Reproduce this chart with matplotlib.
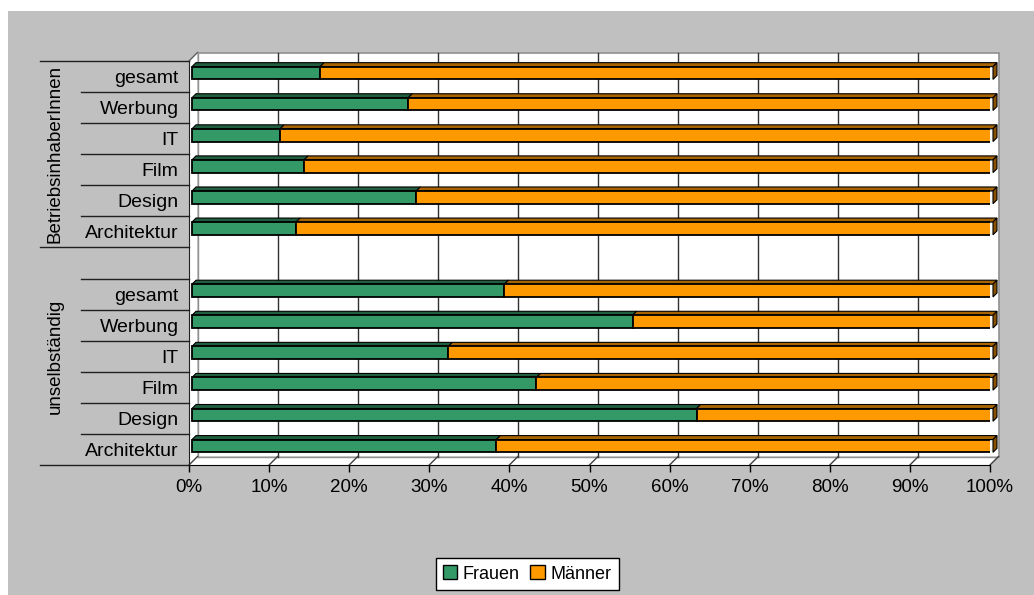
import matplotlib
matplotlib.use("Agg")
import matplotlib.pyplot as plt
from matplotlib.patches import Rectangle, Polygon, Patch
from matplotlib.transforms import offset_copy

plt.rcParams["font.family"] = ["Liberation Sans", "DejaVu Sans"]

# Zeilen von unten nach oben; die leere Zeile trennt die beiden Gruppen
categories = ["Architektur", "Design", "Film", "IT", "Werbung", "gesamt", "",
              "Architektur", "Design", "Film", "IT", "Werbung", "gesamt"]
frauen = [38, 63, 43, 32, 55, 39, None, 13, 28, 14, 11, 27, 16]
maenner = [62, 37, 57, 68, 45, 61, None, 87, 72, 86, 89, 73, 84]
groups = ["unselbständig", "BetriebsinhaberInnen"]
group_rows = [(0, 6), (7, 12)]
xticks = [0, 10, 20, 30, 40, 50, 60, 70, 80, 90, 100]

green, green_top = "#339966", "#1f5e3e"
orange, orange_top, orange_side = "#ff9900", "#a86400", "#8a5200"

W, H = 1034, 595
fig = plt.figure(figsize=(W / 100, H / 100), dpi=100, facecolor="white")
fig.add_artist(Rectangle((8 / W, 0), 1, 1 - 11 / H, transform=fig.transFigure,
                         facecolor="#c0c0c0", edgecolor="none", zorder=-10))

ax = fig.add_axes([189 / W, 130 / H, 801 / W, 404 / H])
ax.set_xlim(0, 100)
ax.set_ylim(-0.5, len(categories) - 0.5)
ax.patch.set_visible(False)

# Tiefe der Wände und der Balken in Pixeln
depth = 8.5
bar_depth = 4.0
px_x = ax.bbox.width / 100
px_y = ax.bbox.height / len(categories)
dax = depth / ax.bbox.width
day = depth / ax.bbox.height

# Rückwand, linke Wand, Boden
ax.add_patch(Rectangle((0, 0), 1, 1,
                       transform=offset_copy(ax.transAxes, fig=fig, x=depth, y=depth, units="dots"),
                       facecolor="white", edgecolor="#909090", lw=1.2, zorder=0.5, clip_on=False))
ax.add_patch(Polygon([(0, 0), (0, 1), (dax, 1 + day), (dax, day)], transform=ax.transAxes,
                     facecolor="white", edgecolor="none", zorder=0.6, clip_on=False))
ax.add_patch(Polygon([(0, 0), (1, 0), (1 + dax, day), (dax, day)], transform=ax.transAxes,
                     facecolor="white", edgecolor="none", zorder=0.6, clip_on=False))
ax.plot([0, dax], [1, 1 + day], color="#606060", lw=1, transform=ax.transAxes, clip_on=False, zorder=0.7)
ax.plot([dax, dax], [day, 1 + day], color="#909090", lw=1, transform=ax.transAxes, clip_on=False, zorder=0.7)
ax.plot([dax, 1 + dax], [day, day], color="#909090", lw=1, transform=ax.transAxes, clip_on=False, zorder=0.7)

# Gitterlinien an der Rückwand und schräge Linien am Boden
xax = ax.get_xaxis_transform()
dx_data = depth / px_x
for xt in xticks:
    if 0 < xt < 100:
        ax.plot([xt + dx_data] * 2, [day, 1 + day], color="#303030", lw=1, transform=xax,
                clip_on=False, zorder=0.8)
    ax.plot([xt, xt + dx_data], [0, day], color="#404040", lw=1, transform=xax,
            clip_on=False, zorder=0.8)

# gestapelte Balken mit Ober- und Seitenfläche
bar_tr = offset_copy(ax.transData, fig=fig, x=3, y=3.5, units="dots")
h = 0.41
bdx = bar_depth / px_x
bdy = bar_depth / px_y
for y, f, m in zip(range(len(categories)), frauen, maenner):
    if f is None:
        continue
    ax.barh(y, f, height=h, color=green, edgecolor="black", lw=1.3, transform=bar_tr, zorder=3)
    ax.barh(y, m, left=f, height=h, color=orange, edgecolor="black", lw=1.3, transform=bar_tr, zorder=3)
    yt, yb = y + h / 2, y - h / 2
    for left, right, col in [(0, f, green_top), (f, f + m, orange_top)]:
        ax.add_patch(Polygon([(left, yt), (right, yt), (right + bdx, yt + bdy), (left + bdx, yt + bdy)],
                             transform=bar_tr, facecolor=col, edgecolor="black", lw=0.8,
                             zorder=2.9, clip_on=False))
    ax.add_patch(Polygon([(f + m, yb), (f + m, yt), (f + m + bdx, yt + bdy), (f + m + bdx, yb + bdy)],
                         transform=bar_tr, facecolor=orange_side, edgecolor="black", lw=0.8,
                         zorder=2.9, clip_on=False))

# Achsen
for s in ["top", "right"]:
    ax.spines[s].set_visible(False)
ax.spines["bottom"].set_color("black")
ax.spines["left"].set_color("#202020")
ax.spines["bottom"].set_zorder(1)
ax.spines["left"].set_zorder(1)
ax.set_xticks(xticks)
ax.set_xticklabels([f"{v}%" for v in xticks])
ax.tick_params(axis="x", direction="out", length=5, width=1, pad=5, labelsize=13.5, colors="black")
ax.set_yticks(range(len(categories)))
ax.set_yticklabels(categories)
ax.tick_params(axis="y", length=0, pad=7.5, labelsize=14)

# Trennlinien der Kategorien und Gruppen
yax = ax.get_yaxis_transform()
for (a, b), name in zip(group_rows, groups):
    for k in range(a, b):
        ax.plot([-0.1348, 0], [k + 0.5] * 2, color="#202020", lw=1, transform=yax, clip_on=False)
    ax.plot([-0.186, 0], [a - 0.5] * 2, color="#202020", lw=1, transform=yax, clip_on=False)
    ax.text(-0.167, (a + b) / 2, name, rotation=90, ha="center", va="center",
            fontsize=13.5, transform=yax)
ax.plot([-0.186, 0], [group_rows[-1][1] + 0.5] * 2, color="#202020", lw=1, transform=yax, clip_on=False)

handles = [Patch(facecolor=green, edgecolor="black", lw=1, label="Frauen"),
           Patch(facecolor=orange, edgecolor="black", lw=1, label="Männer")]
leg = fig.legend(handles=handles, loc="center", bbox_to_anchor=(527 / W, 1 - 574 / H), ncol=2,
                 fancybox=False, edgecolor="black", facecolor="white", framealpha=1,
                 fontsize=13, handlelength=0.8, handleheight=0.8, handletextpad=0.3,
                 columnspacing=0.6, borderpad=0.4)
leg.get_frame().set_linewidth(1)

fig.savefig("out.png", dpi=100)
